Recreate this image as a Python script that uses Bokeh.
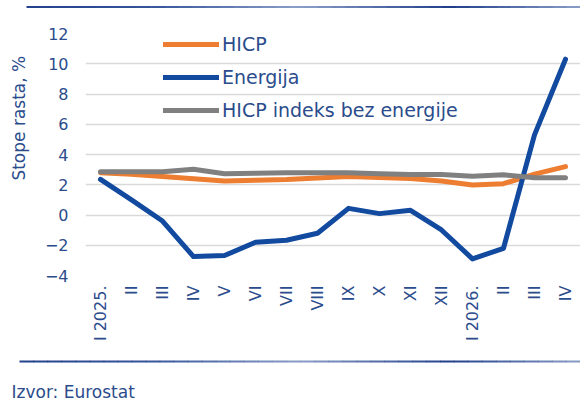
import math
from bokeh.plotting import figure
from bokeh.layouts import column, row
from bokeh.models import Range1d, FixedTicker, Legend, LegendItem, Label
from bokeh.embed import file_html
from bokeh.resources import INLINE

# ---- data ----
months = ["I 2025.", "II", "III", "IV", "V", "VI", "VII", "VIII", "IX", "X",
          "XI", "XII", "I 2026.", "II", "III", "IV"]
hicp = [2.8, 2.7, 2.55, 2.4, 2.25, 2.3, 2.35, 2.45, 2.55, 2.48, 2.42, 2.25,
        1.98, 2.07, 2.7, 3.2]
energija = [2.35, 1.0, -0.4, -2.75, -2.68, -1.8, -1.67, -1.21, 0.44, 0.09,
            0.31, -0.99, -2.9, -2.2, 5.3, 10.3]
bez_energije = [2.86, 2.86, 2.86, 3.03, 2.73, 2.76, 2.8, 2.8, 2.8, 2.73,
                2.67, 2.67, 2.57, 2.66, 2.46, 2.46]
y_ticks = [-4, -2, 0, 2, 4, 6, 8, 10, 12]
series_names = ["HICP", "Energija", "HICP indeks bez energije"]
y_title = "Stope rasta, %"
source_text = "Izvor: Eurostat"

idx = list(range(len(months)))

TEXT = "#2B4C8C"
FONT = "DejaVu Sans"
W = 580
TOP_H, MID_H, BOT_H = 12, 340, 53
LEFT_W = 30


def strip(w, h):
    f = figure(width=w, height=h, output_backend="svg", toolbar_location=None,
               x_range=Range1d(0, w), y_range=Range1d(0, h),
               x_axis_type=None, y_axis_type=None, title=None,
               min_border=0, min_border_left=0, min_border_right=0,
               min_border_top=0, min_border_bottom=0)
    f.outline_line_color = None
    f.background_fill_color = "white"
    f.border_fill_color = "white"
    return f


def rule_color(x):
    stops = [(0, (0x1F, 0x3F, 0x8A)), (150, (0x35, 0x55, 0x9B)),
             (300, (0x8C, 0x9F, 0xC8)), (450, (0x1F, 0x3F, 0x8A)),
             (580, (0x8C, 0x9F, 0xC8))]
    for (xa, ca), (xb, cb) in zip(stops[:-1], stops[1:]):
        if xa <= x <= xb:
            t = (x - xa) / (xb - xa)
            c = tuple(int(a + (b - a) * t) for a, b in zip(ca, cb))
            return "#%02x%02x%02x" % c
    return "#1F3F8A"


def draw_rule(f, x0, x1, y, n=40):
    step = (x1 - x0) / n
    xs0 = [x0 + i * step for i in range(n)]
    xs1 = [x0 + (i + 1) * step + 0.6 for i in range(n)]
    cols = [rule_color(x0 + (i + 0.5) * step) for i in range(n)]
    f.segment(x0=xs0, y0=[y] * n, x1=xs1, y1=[y] * n, line_color=cols,
              line_width=2)


# ---- top strip (rule) ----
top = strip(W, TOP_H)
draw_rule(top, 26, W, TOP_H - 6.5)

# ---- left strip (axis title) ----
left = strip(LEFT_W, MID_H)
left.add_layout(Label(x=18.5, y=MID_H - (131 - TOP_H), text=y_title,
                      angle=math.pi / 2, text_align="center",
                      text_baseline="middle", text_font=FONT,
                      text_font_size="17px", text_color=TEXT))

# ---- main chart ----
p = figure(width=W - LEFT_W, height=MID_H, output_backend="svg",
           toolbar_location=None,
           x_range=Range1d(-0.484, 15.484), y_range=Range1d(-4, 12),
           min_border_left=55, min_border_right=0, min_border_top=21,
           min_border_bottom=77, title=None)
p.outline_line_color = None
p.background_fill_color = "white"
p.border_fill_color = "white"

p.xaxis.ticker = FixedTicker(ticks=idx)
p.xaxis.major_label_overrides = {i: m for i, m in enumerate(months)}
p.xaxis.major_label_orientation = math.pi / 2
p.xaxis.axis_line_color = None
p.xaxis.major_tick_line_color = None
p.xaxis.minor_tick_line_color = None
p.xaxis.major_tick_in = 0
p.xaxis.major_tick_out = 0
p.xaxis.major_label_standoff = 10
p.xaxis.major_label_text_font = FONT
p.xaxis.major_label_text_font_size = "16px"
p.xaxis.major_label_text_color = TEXT
p.xgrid.grid_line_color = None

p.yaxis.ticker = FixedTicker(ticks=y_ticks)
p.yaxis.axis_line_color = None
p.yaxis.major_tick_line_color = None
p.yaxis.minor_tick_line_color = None
p.yaxis.major_tick_in = 0
p.yaxis.major_tick_out = 0
p.yaxis.major_label_standoff = 17
p.yaxis.major_label_text_font = FONT
p.yaxis.major_label_text_font_size = "16px"
p.yaxis.major_label_text_color = TEXT
p.ygrid.grid_line_color = "#D9D9D9"
p.ygrid.grid_line_width = 1.6

common = dict(line_width=5, line_cap="round", line_join="round")
r1 = p.line(idx, hicp, line_color="#ED7D31", **common)
r2 = p.line(idx, energija, line_color="#114A9F", **common)
r3 = p.line(idx, bez_energije, line_color="#808080", **common)

legend = Legend(items=[LegendItem(label=series_names[0], renderers=[r1]),
                       LegendItem(label=series_names[1], renderers=[r2]),
                       LegendItem(label=series_names[2], renderers=[r3])],
                location=(78, 154), orientation="vertical",
                glyph_width=56, glyph_height=22, label_height=22, spacing=11,
                padding=0, margin=0, label_standoff=3,
                border_line_color=None, background_fill_alpha=0,
                label_text_font=FONT, label_text_font_size="19px",
                label_text_color=TEXT)
p.add_layout(legend)

# ---- bottom strip (rule + source) ----
bot = strip(W, BOT_H)
page_y0 = TOP_H + MID_H
draw_rule(bot, 19, W, BOT_H - (361 - page_y0))
bot.add_layout(Label(x=11, y=BOT_H - (391.5 - page_y0), text=source_text,
                     text_align="left", text_baseline="alphabetic",
                     text_font=FONT, text_font_size="17px", text_color=TEXT))

layout = column(top, row(left, p, spacing=0), bot, spacing=0)
open("out.html", "w").write(file_html(layout, INLINE))
